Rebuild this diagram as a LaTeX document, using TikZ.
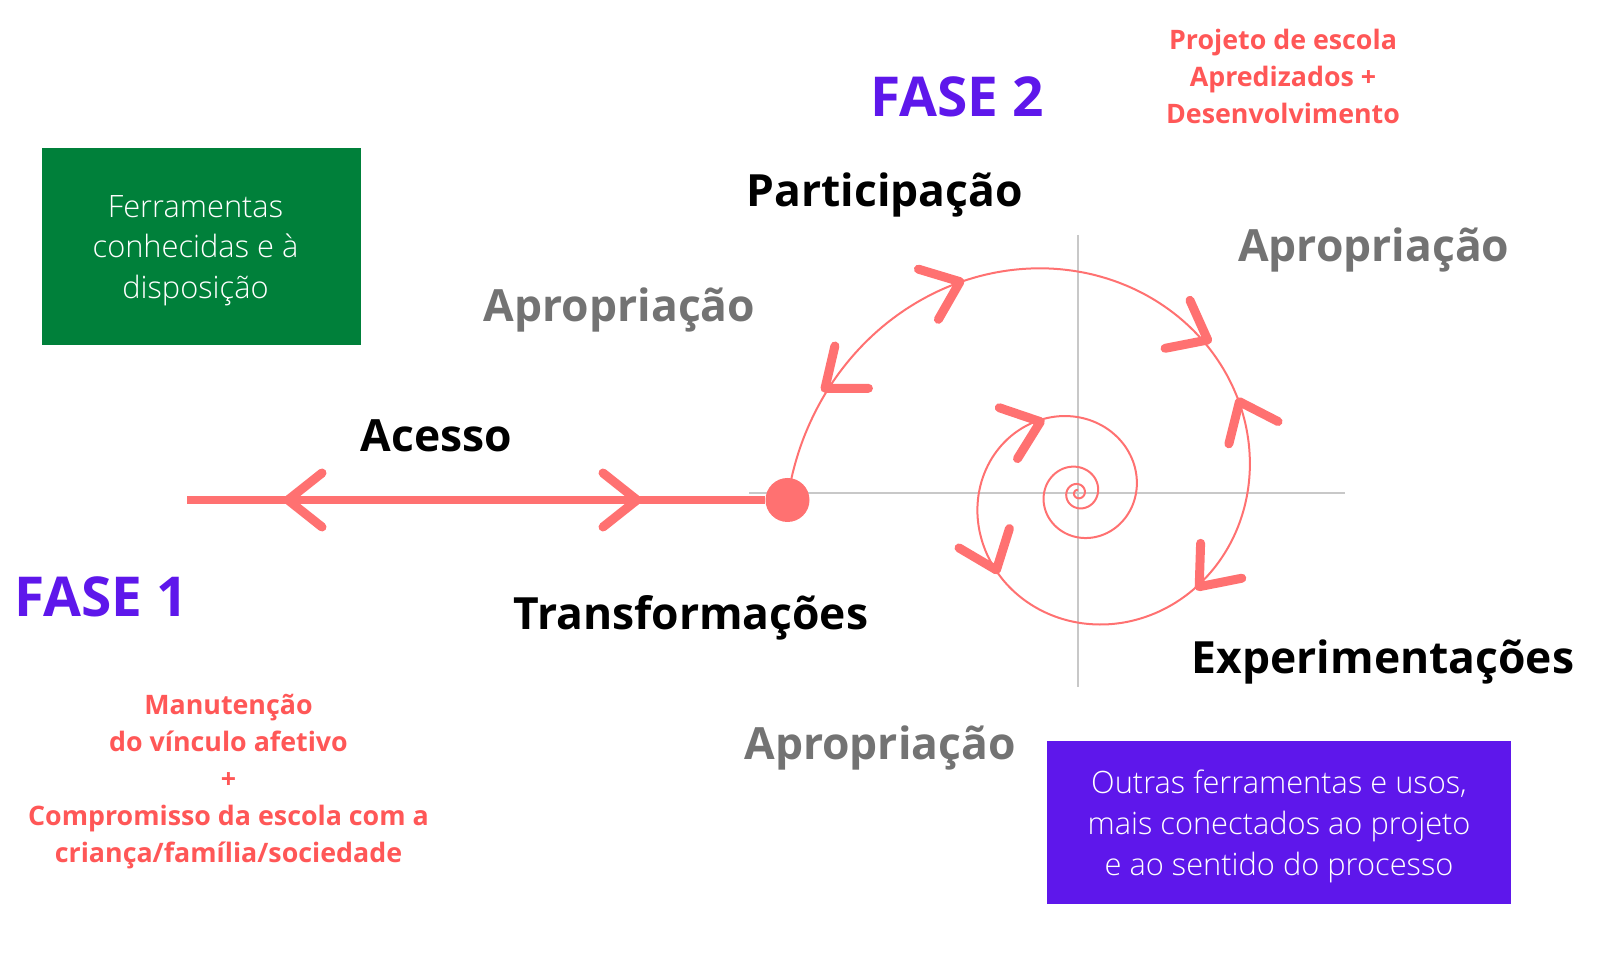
\documentclass[tikz,border=0pt]{standalone}
\usepackage{fontspec}
\setmainfont{Open Sans}
\IfFontExistsTF{Open Sans Light}{\newfontfamily\lightfont{Open Sans Light}}{\newfontfamily\lightfont{Open Sans}}
\usepackage{tikz}
\usetikzlibrary{positioning}
\definecolor{fasepurple}{HTML}{5E17EB}
\definecolor{notered}{HTML}{FF5757}
\definecolor{spiralred}{HTML}{FF7171}
\definecolor{boxgreen}{HTML}{00803A}
\definecolor{aprogray}{HTML}{737373}
\definecolor{axisgray}{HTML}{C8C8C8}

\begin{document}
\begin{tikzpicture}[x=0.5pt,y=0.5pt,
  lbl/.style={font=\fontsize{22.2}{26}\selectfont\bfseries,anchor=base,inner sep=0pt},
  apro/.style={lbl,text=aprogray},
  fase/.style={font=\fontsize{27.5}{32}\selectfont\bfseries,text=fasepurple,anchor=base,inner sep=0pt},
  note/.style={font=\fontsize{13.4}{18.5}\selectfont\bfseries,text=notered,align=center,inner sep=0pt},
  toolbox/.style={inner sep=0pt},
  tooltext/.style={font=\lightfont\fontsize{15.4}{20.3}\selectfont,text=white,align=center,inner sep=0pt},
  mainline/.style={draw=spiralred,line width=4.3pt},
  spiral/.style={draw=spiralred,line width=1pt},
  axis/.style={draw=axisgray,line width=1.2pt},
  chevline/.style={draw=spiralred,line width=4.5pt,line cap=round,line join=round},
  chev/.pic={\draw[chevline] (-34,27) -- (0,0) -- (-34,-27);}
]
  \useasboundingbox (0,0) rectangle (1598,958);

  % boxes
  \node[toolbox,fill=boxgreen,minimum width=159.5pt,minimum height=98.5pt] (known) at (201.5,711.5) {};
  \node[tooltext] (knowntxt) at ([xshift=-3pt,yshift=-2pt]known.center) {Ferramentas\\conhecidas e à\\disposição};
  \node[toolbox,fill=fasepurple,minimum width=232pt,minimum height=81.3pt] (other) at (1279,135.6) {};
  \node[tooltext] (othertxt) at ([yshift=-2pt]other.center) {Outras ferramentas e usos,\\mais conectados ao projeto\\e ao sentido do processo};

  % labels
  \node[fase] (fase2) at (957,841.3) {FASE 2};
  \node[fase] (fase1) at (101,341.3) {FASE 1};
  \node[lbl] (part) at (884.6,751) {Participação};
  \node[apro] (aproR) at (1373.7,696.3) {Apropriação};
  \node[apro] (aproL) at (619.6,636.3) {Apropriação};
  \node[apro] (aproB) at (880,199) {Apropriação};
  \node[lbl] (acesso) at (436.6,506.5) {Acesso};
  \node[lbl] (transf) at (690.9,328) {Transformações};
  \node[lbl] (exper) at (1383,284.7) {Experimentações};
  \node[note] (projeto) at (1283,882) {Projeto de escola\\Apredizados +\\Desenvolvimento};
  \node[note] (vinculo) at (228.5,176) {Manutenção\\do vínculo afetivo\\+\\Compromisso da escola com a\\criança/família/sociedade};

  % axes
  \coordinate (ctr) at (1078,465);
  \coordinate (hL) at (749,465);
  \coordinate (hR) at (1345,465);
  \coordinate (vT) at (1078,723);
  \coordinate (vB) at (1078,271);
  \draw[axis] (hL) -- (hR);
  \draw[axis] (vT) -- (vB);

  % spiral
  \draw[spiral,shift={(ctr)}] plot[domain=181.4:-1350,samples=600,smooth,variable=\t] (\t:{290.6*exp(0.002977*(\t-181.4))});

  % access line
  \coordinate (lstart) at (187,458);
  \node[circle,fill=spiralred,minimum size=22pt,inner sep=0pt] (dot) at (787.5,458) {};
  \draw[mainline] (lstart) -- (dot);

  % chevrons
  \foreach \px/\py/\ang in {288/458/180, 637/458/0, 960/676.3/21.7, 1207.7/618/-27.4,
      1199.2/371.3/-130.3, 996.4/388/-69, 1040.4/536.3/19.7, 825/569.7/-141.6, 1239.4/556.3/114.4}
    \pic[rotate=\ang] at (\px,\py) {chev};
\end{tikzpicture}
\end{document}
